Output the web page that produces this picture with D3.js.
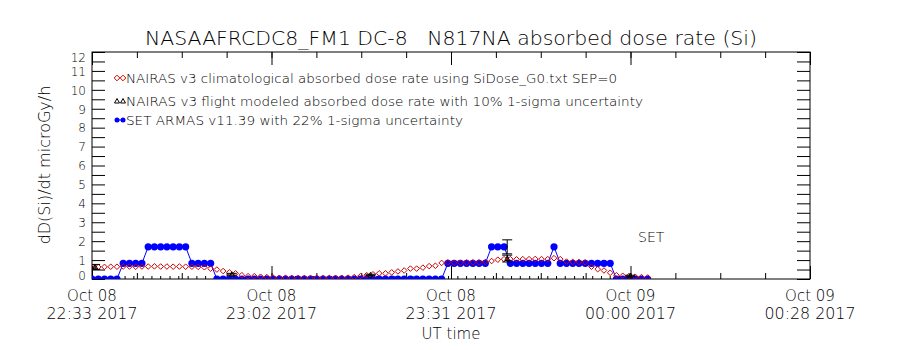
<!DOCTYPE html>
<html>
<head>
<meta charset="utf-8">
<script src="https://cdn.jsdelivr.net/npm/d3@7"></script>
<style>
    body { margin: 0; background: #ffffff; }
    svg text { font-family: "DejaVu Sans", sans-serif; font-weight: 200; fill: #000000; }
</style>
</head>
<body>
<svg id="dose-chart"></svg>
<script>
/*--------------------------------------------------------------------------------
----- ABSORBED DOSE RATE CHART (NAIRAS model vs SET ARMAS measurements)
--------------------------------------------------------------------------------*/

// Texts of the chart
const chart_title = "NASAAFRCDC8_FM1 DC-8   N817NA absorbed dose rate (Si)";
const y_axis_title = "dD(Si)/dt microGy/h";
const x_axis_title = "UT time";
const legend_labels = [
    "NAIRAS v3 climatological absorbed dose rate using SiDose_G0.txt SEP=0",
    "NAIRAS v3 flight modeled absorbed dose rate with 10% 1-sigma uncertainty",
    "SET ARMAS v11.39 with 22% 1-sigma uncertainty"
];

// X-axis tick labels (two lines under every major tick)
const x_tick_dates = ["Oct 08", "Oct 08", "Oct 08", "Oct 09", "Oct 09"];
const x_tick_times = ["22:33 2017", "23:02 2017", "23:31 2017", "00:00 2017", "00:28 2017"];
const y_tick_labels = [0, 1, 2, 3, 4, 5, 6, 7, 8, 9, 10, 11, 12];

// Time window of the plot and the first sample (one sample per minute)
const axis_start = new Date(2017, 9, 8, 22, 33, 0);
const axis_end = new Date(2017, 9, 9, 0, 28, 0);
const series_start = new Date(2017, 9, 8, 22, 33, 0);

// NAIRAS v3 climatological dose rate (red diamonds), one value per minute
const nairas_clim_values = [
    0.62, 0.63, 0.64, 0.65, 0.65, 0.66, 0.66, 0.65, 0.66, 0.66,
    0.67, 0.66, 0.66, 0.65, 0.66, 0.65, 0.65, 0.64, 0.62, 0.55,
    0.50, 0.42, 0.35, 0.30, 0.20, 0.15, 0.15, 0.12, 0.10, 0.07,
    0.06, 0.06, 0.05, 0.05, 0.05, 0.05, 0.05, 0.05, 0.05, 0.06,
    0.06, 0.07, 0.10, 0.15, 0.20, 0.25, 0.30, 0.30, 0.35, 0.40,
    0.45, 0.55, 0.55, 0.60, 0.68, 0.70, 0.85, 0.88, 0.86, 0.86,
    0.87, 0.88, 0.88, 0.90, 0.95, 1.02, 1.05, 1.05, 1.04, 1.05,
    1.05, 1.06, 1.05, 1.05, 1.10, 1.05, 0.92, 0.90, 0.90, 0.88,
    0.65, 0.52, 0.45, 0.33, 0.20, 0.17, 0.15, 0.12, 0.10, 0.08
];

// SET ARMAS measured dose rate (blue dots), one value per minute
const set_armas_values = [
    0, 0, 0, 0, 0, 0.83, 0.83, 0.83, 0.83, 1.70,
    1.70, 1.70, 1.70, 1.70, 1.70, 1.70, 0.83, 0.83, 0.83, 0.83,
    0, 0, 0, 0, 0, 0, 0, 0, 0, 0,
    0, 0, 0, 0, 0, 0, 0, 0, 0, 0,
    0, 0, 0, 0, 0, 0, 0, 0, 0, 0,
    0, 0, 0, 0, 0, 0, 0, 0.83, 0.83, 0.83,
    0.83, 0.83, 0.83, 0.83, 1.70, 1.70, 1.70, 0.83, 0.83, 0.83,
    0.83, 0.83, 0.83, 0.83, 1.70, 0.83, 0.83, 0.83, 0.83, 0.83,
    0.83, 0.83, 0.83, 0.83, 0, 0, 0, 0, 0, 0
];

// NAIRAS v3 flight modeled dose rate (black triangles with error bars), minutes after 22:33
const flight_model_minutes = [0.5, 22.4, 44.6, 66.5, 86.2];
const flight_model_values = [0.64, 0.25, 0.22, 1.08, 0.17];
const flight_model_low = [0.51, 0.20, 0.19, 0.90, 0.14];
const flight_model_high = [0.77, 0.30, 0.25, 1.26, 0.20];

// SET ARMAS 1-sigma error bars at the flight modeled times
const set_error_low = [0, 0, 0, 1.33, 0];
const set_error_high = [0, 0, 0, 2.07, 0];

// Flight modeled samples lying on the zero line (drawn as small marks), minutes after 22:33
const flight_model_zero_minutes = [
    5.3, 6.7, 8.2, 9.6, 11.0, 12.5, 13.9, 15.4, 16.8, 18.2,
    19.7, 21.1, 22.6, 24.0, 25.4, 26.9, 28.3, 29.8, 31.2, 32.6,
    34.1, 35.5, 37.0, 38.4, 39.8, 41.3, 42.7, 44.2, 45.6, 47.0,
    48.5, 49.9, 51.4, 52.8, 54.2, 55.7, 57.1, 58.6, 60.0, 61.4,
    62.9, 64.3, 65.8, 67.2, 68.6, 70.1, 71.5, 73.0, 74.4, 75.8,
    77.3, 78.7, 80.2, 81.6, 83.0, 84.5, 85.9, 87.4, 88.8
];

// Colours
const red_colour = "#cc0000";
const blue_colour = "#0000ff";

// Helper to turn a number of minutes after the series start into a date
function minutes_to_date(minutes) {
    return new Date(series_start.getTime() + minutes * 60000);
}

// Configure and adjust the dimensions of the chart
const chart_width = 900, chart_height = 350;
const chart_margins = { top: 52, right: 90, bottom: 71, left: 92 };
const plot_width = chart_width - chart_margins.left - chart_margins.right;
const plot_height = chart_height - chart_margins.top - chart_margins.bottom;

// Create the scales for the X-axis (time) and Y-axis (dose rate)
const x_scale = d3.scaleTime()
    .domain([axis_start, axis_end])
    .range([0, plot_width]);
const y_scale = d3.scaleLinear()
    .domain([0, 12])
    .range([plot_height, 0]);

// Major ticks split the time window in four, minor ticks split each part in four
const x_major_ticks = d3.range(5).map(k => new Date(axis_start.getTime() + k * (axis_end - axis_start) / 4));
const x_minor_ticks = d3.range(17).map(k => new Date(axis_start.getTime() + k * (axis_end - axis_start) / 16));

// Create the chart container
const svg = d3.select("#dose-chart")
    .attr("width", chart_width)
    .attr("height", chart_height);

const plot = svg.append("g")
    .attr("transform", `translate(${chart_margins.left},${chart_margins.top})`);

// Clip every mark to the plot box
plot.append("clipPath")
    .attr("id", "plot-clip")
    .append("rect")
    .attr("width", plot_width)
    .attr("height", plot_height);

// Title (keeps the wide gap between the two parts)
svg.append("text")
    .attr("x", chart_margins.left + plot_width / 2)
    .attr("y", 45)
    .attr("text-anchor", "middle")
    .attr("font-size", 19)
    .attr("xml:space", "preserve")
    .style("white-space", "pre")
    .attr("textLength", 612)
    .attr("lengthAdjust", "spacingAndGlyphs")
    .text(chart_title);

// Y-axis on the left (ticks every 0.5, labels every 1)
const y_axis_left = plot.append("g")
    .call(d3.axisLeft(y_scale)
        .tickValues(d3.range(0, 12.5, 0.5))
        .tickSize(-13)
        .tickSizeOuter(0)
        .tickPadding(6)
        .tickFormat(d => y_tick_labels.includes(d) ? d : ""));
y_axis_left.attr("font-size", 12);
y_axis_left.select(".domain").remove();
y_axis_left.selectAll(".tick line").attr("stroke", "#000");
// Keep the end labels inside the plot box height like the original
y_axis_left.selectAll(".tick text")
    .attr("dy", d => {
        const y = y_scale(d);
        const shift = Math.min(Math.max(y, 5), plot_height - 4) - y;
        return (shift + 4.3) + "px";
    });

// Y-axis on the right (ticks only)
const y_axis_right = plot.append("g")
    .attr("transform", `translate(${plot_width},0)`)
    .call(d3.axisRight(y_scale)
        .tickValues(d3.range(0, 12.5, 0.5))
        .tickSize(-13)
        .tickSizeOuter(0)
        .tickFormat(""));
y_axis_right.select(".domain").remove();
y_axis_right.selectAll(".tick line").attr("stroke", "#000");

// X-axis ticks at the bottom and top (major and minor)
function add_x_ticks(axis_fn, y_pos, tick_values, size) {
    const g = plot.append("g")
        .attr("transform", `translate(0,${y_pos})`)
        .call(axis_fn(x_scale)
            .tickValues(tick_values)
            .tickSize(-size)
            .tickSizeOuter(0)
            .tickFormat(""));
    g.select(".domain").remove();
    g.selectAll(".tick line").attr("stroke", "#000");
}
add_x_ticks(d3.axisBottom, plot_height, x_minor_ticks, 6);
add_x_ticks(d3.axisBottom, plot_height, x_major_ticks, 13);
add_x_ticks(d3.axisTop, 0, x_minor_ticks, 6);
add_x_ticks(d3.axisTop, 0, x_major_ticks, 13);

// X-axis tick labels (date line and time line)
const x_labels = plot.append("g")
    .selectAll("g")
    .data(x_major_ticks)
    .enter()
    .append("g")
    .attr("transform", d => `translate(${x_scale(d)},0)`);
x_labels.append("text")
    .attr("y", plot_height + 22)
    .attr("text-anchor", "middle")
    .attr("font-size", 15)
    .text((d, i) => x_tick_dates[i]);
x_labels.append("text")
    .attr("y", plot_height + 40)
    .attr("text-anchor", "middle")
    .attr("font-size", 15)
    .attr("textLength", 91)
    .attr("lengthAdjust", "spacingAndGlyphs")
    .text((d, i) => x_tick_times[i]);

// Axis titles
svg.append("text")
    .attr("x", chart_margins.left + plot_width / 2)
    .attr("y", 339)
    .attr("text-anchor", "middle")
    .attr("font-size", 15)
    .text(x_axis_title);

svg.append("text")
    .attr("transform", "translate(50,165) rotate(-90)")
    .attr("text-anchor", "middle")
    .attr("font-size", 16)
    .text(y_axis_title);

// Plot box
plot.append("rect")
    .attr("width", plot_width)
    .attr("height", plot_height)
    .attr("fill", "none")
    .attr("stroke", "#000")
    .attr("stroke-width", 1);

// Data layer (clipped)
const data_layer = plot.append("g").attr("clip-path", "url(#plot-clip)");

// Prepare the per-minute datasets
const clim_data = nairas_clim_values.map((v, i) => ({ t: d3.timeMinute.offset(series_start, i), v: v }));
const set_data = set_armas_values.map((v, i) => ({ t: d3.timeMinute.offset(series_start, i), v: v }));
const model_data = flight_model_minutes.map((m, i) => ({
    t: minutes_to_date(m),
    v: flight_model_values[i],
    lo: flight_model_low[i],
    hi: flight_model_high[i],
    set_lo: set_error_low[i],
    set_hi: set_error_high[i]
}));

// Small marks of the flight modeled samples on the zero line
data_layer.selectAll(".zero-mark")
    .data(flight_model_zero_minutes)
    .enter()
    .append("line")
    .attr("class", "zero-mark")
    .attr("x1", d => x_scale(minutes_to_date(d)))
    .attr("x2", d => x_scale(minutes_to_date(d)))
    .attr("y1", y_scale(0))
    .attr("y2", y_scale(0) - 3)
    .attr("stroke", "#000");

// SET ARMAS line and dots
data_layer.append("path")
    .datum(set_data)
    .attr("fill", "none")
    .attr("stroke", blue_colour)
    .attr("stroke-width", 1)
    .attr("d", d3.line().x(d => x_scale(d.t)).y(d => y_scale(d.v)));

data_layer.selectAll(".set-dot")
    .data(set_data)
    .enter()
    .append("circle")
    .attr("class", "set-dot")
    .attr("cx", d => x_scale(d.t))
    .attr("cy", d => y_scale(d.v))
    .attr("r", 3.6)
    .attr("fill", blue_colour);

// NAIRAS climatological diamonds
const diamond_path = "M0,-2.8L2.8,0L0,2.8L-2.8,0Z";
data_layer.selectAll(".clim-diamond")
    .data(clim_data)
    .enter()
    .append("path")
    .attr("class", "clim-diamond")
    .attr("transform", d => `translate(${x_scale(d.t)},${y_scale(d.v)})`)
    .attr("d", diamond_path)
    .attr("fill", "none")
    .attr("stroke", red_colour)
    .attr("stroke-width", 1);

// Error bar helper (vertical line with caps)
function draw_error_bar(group, x, y_lo, y_hi, cap) {
    group.append("line")
        .attr("x1", x).attr("x2", x)
        .attr("y1", y_lo).attr("y2", y_hi)
        .attr("stroke", "#000");
    [y_lo, y_hi].forEach(y => {
        group.append("line")
            .attr("x1", x - cap).attr("x2", x + cap)
            .attr("y1", y).attr("y2", y)
            .attr("stroke", "#000");
    });
}

// SET ARMAS error bars and flight modeled points with their error bars
const triangle_path = "M0,-2.5L2.5,2L-2.5,2Z";
model_data.forEach(d => {
    const x = x_scale(d.t);
    if (d.set_hi > d.set_lo) {
        draw_error_bar(data_layer, x, y_scale(d.set_lo), y_scale(d.set_hi), 5);
    }
    draw_error_bar(data_layer, x, y_scale(d.lo), y_scale(d.hi), 5);
    data_layer.append("path")
        .attr("transform", `translate(${x},${y_scale(d.v)})`)
        .attr("d", triangle_path)
        .attr("fill", "none")
        .attr("stroke", "#000");
});

// "SET" label beside the data
plot.append("text")
    .attr("x", 546)
    .attr("y", 190)
    .attr("font-size", 14)
    .text("SET");

// Legend
const legend_rows = [78, 101, 120];
const legend = svg.append("g");
legend_labels.forEach((label, i) => {
    const y = legend_rows[i];
    if (i === 0) {
        [117, 123].forEach(x => {
            legend.append("path")
                .attr("transform", `translate(${x},${y})`)
                .attr("d", diamond_path)
                .attr("fill", "none")
                .attr("stroke", red_colour);
        });
    } else if (i === 1) {
        [117, 123].forEach(x => {
            legend.append("path")
                .attr("transform", `translate(${x},${y})`)
                .attr("d", triangle_path)
                .attr("fill", "none")
                .attr("stroke", "#000");
        });
    } else {
        legend.append("line")
            .attr("x1", 116).attr("x2", 124)
            .attr("y1", y).attr("y2", y)
            .attr("stroke", blue_colour);
        [117, 123].forEach(x => {
            legend.append("circle")
                .attr("cx", x).attr("cy", y)
                .attr("r", 2.5)
                .attr("fill", blue_colour);
        });
    }
    legend.append("text")
        .attr("x", 126)
        .attr("y", y + 5)
        .attr("font-size", 13)
        .attr("textLength", [491, 517, 337][i])
        .attr("lengthAdjust", "spacingAndGlyphs")
        .text(label);
});
</script>
</body>
</html>
